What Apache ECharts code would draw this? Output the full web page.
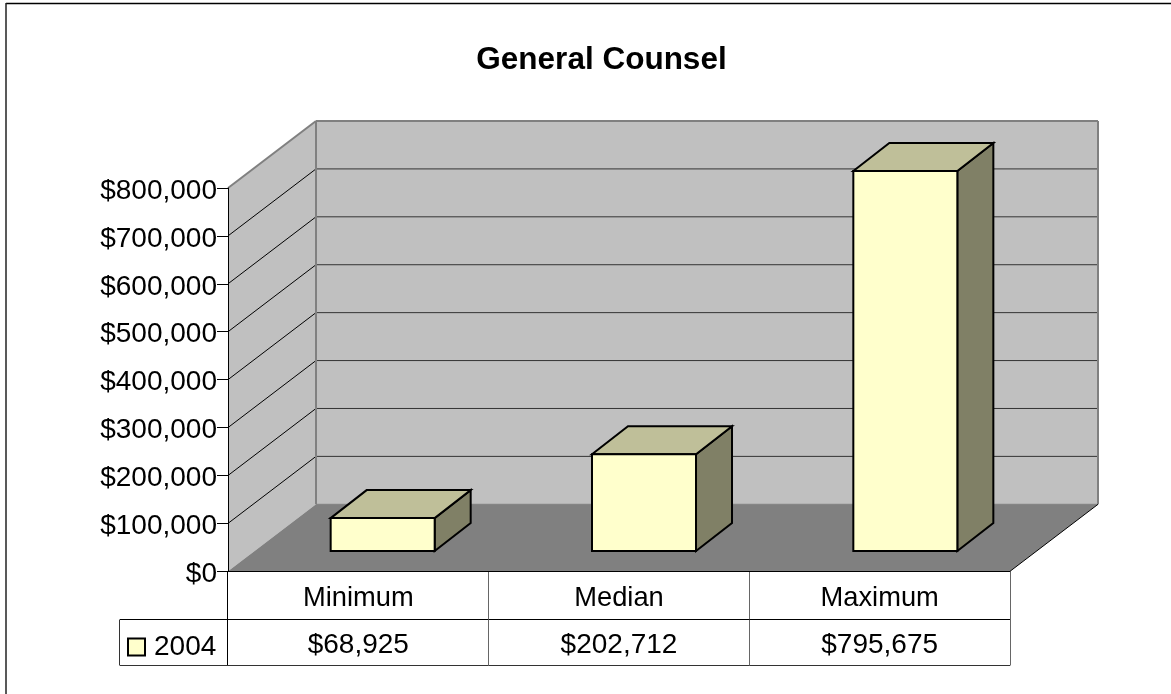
<!DOCTYPE html>
<html>
<head>
<meta charset="utf-8">
<style>html,body{margin:0;padding:0;background:#fff}#c{width:1171px;height:694px}</style>
<script src="https://cdn.jsdelivr.net/npm/echarts@6/dist/echarts.min.js"></script>
</head>
<body>
<div id="c"></div>
<script>
var categories = ['Minimum', 'Median', 'Maximum'];
var seriesName = '2004';
var values2004 = [68925, 202712, 795675];
var yTicks = [0, 100000, 200000, 300000, 400000, 500000, 600000, 700000, 800000];
var chartTitle = 'General Counsel';

var FONT = '"Liberation Sans", Arial, sans-serif';
var DX = 88, DY = -67;       // oblique offset of the back wall
var BDX = 36, BDY = -28;     // oblique offset of the bar depth
var money = function (v) { return '$' + Number(v).toLocaleString('en-US'); };

var chart = echarts.init(document.getElementById('c'), null, {renderer: 'canvas'});

function poly(points, fill, stroke, lw) {
  return {type: 'polygon', shape: {points: points},
    style: {fill: fill, stroke: stroke || null, lineWidth: lw || 0, lineJoin: 'miter'}};
}
function seg(a, b, color, lw) {
  return {type: 'line', shape: {x1: a[0], y1: a[1], x2: b[0], y2: b[1]},
    style: {stroke: color, lineWidth: lw, fill: null}};
}

function renderBox(params, api) {
  // walls, floor and wall gridlines, from the value axis
  if (params.dataIndex !== 0) return {type: 'group', children: []};
  var cs = params.coordSys;
  var x0 = cs.x, x1 = cs.x + cs.width;
  var yb = api.coord([0, 0])[1];
  var yt = api.coord([0, yTicks[yTicks.length - 1]])[1];
  var kids = [];
  kids.push(poly([[x0 + DX, yt + DY], [x1 + DX, yt + DY], [x1 + DX, yb + DY], [x0 + DX, yb + DY]], '#C0C0C0'));
  kids.push(poly([[x0, yt], [x0 + DX, yt + DY], [x0 + DX, yb + DY], [x0, yb]], '#C0C0C0'));
  kids.push(poly([[x0, yb], [x0 + DX, yb + DY], [x1 + DX, yb + DY], [x1, yb]], '#808080'));
  yTicks.forEach(function (t, i) {
    var y = api.coord([0, t])[1];
    if (i > 0 && i < yTicks.length - 1) {
      kids.push(seg([x0, y], [x0 + DX, y + DY], '#000', 1));
      kids.push(seg([x0 + DX, y + DY], [x1 + DX, y + DY], '#333', 1));
    }
  });
  kids.push(seg([x0, yt], [x0 + DX, yt + DY], '#808080', 2));
  kids.push(seg([x0 + DX, yt + DY], [x1 + DX, yt + DY], '#808080', 2));
  kids.push(seg([x0 + DX, yt + DY], [x0 + DX, yb + DY], '#808080', 2));
  kids.push(seg([x1 + DX, yt + DY], [x1 + DX, yb + DY], '#808080', 2));
  kids.push(seg([x0 + DX, yb + DY], [x1 + DX, yb + DY], '#808080', 1));
  kids.push(seg([x1, yb], [x1 + DX, yb + DY], '#000', 1));
  return {type: 'group', children: kids};
}

function renderBar(params, api) {
  var cat = api.value(0), val = api.value(1);
  var top = api.coord([cat, val]), bot = api.coord([cat, 0]);
  var w = api.size([1, 0])[0] * 0.398;
  var l = top[0] - w / 2, r = top[0] + w / 2, t = top[1], b = bot[1];
  return {type: 'group', children: [
    poly([[r, t], [r + BDX, t + BDY], [r + BDX, b + BDY], [r, b]], '#808066', '#000', 2),
    poly([[l, t], [l + BDX, t + BDY], [r + BDX, t + BDY], [r, t]], '#BFBF99', '#000', 2),
    poly([[l, t], [r, t], [r, b], [l, b]], '#FFFFCC', '#000', 2)
  ]};
}

function renderTable(params, api) {
  // data table under the axis: one value cell per category
  var cs = params.coordSys;
  var band = api.size([1, 0])[0];
  var cx = api.coord([api.value(0), 0])[0];
  var yb = cs.y + cs.height;
  var yMid = Math.floor(yb + 48) + 0.5, yEnd = Math.floor(yb + 94) + 0.5;
  var l = cx - band / 2, r = cx + band / 2;
  var kids = [
    seg([l, yMid], [r, yMid], '#000', 1),
    seg([l, yEnd], [r, yEnd], '#333', 1),
    seg([Math.floor(r) + 0.5, yb], [Math.floor(r) + 0.5, yEnd], '#666', 1),
    {type: 'text', x: cx, y: (yMid + yEnd) / 2 + 3, style: {
      text: money(api.value(1)), fill: '#000', font: '28px ' + FONT, align: 'center', verticalAlign: 'middle'}}
  ];
  if (params.dataIndex === 0) {
    kids.push(seg([l - 0.5, yb], [l - 0.5, yEnd], '#000', 1));
    kids.push(seg([l - 108, yMid], [l, yMid], '#000', 1));
    kids.push(seg([l - 108, yEnd], [l, yEnd], '#333', 1));
    kids.push(seg([l - 108.5, yMid], [l - 108.5, yEnd], '#333', 1));
  }
  return {type: 'group', children: kids};
}

var rows = categories.map(function (c, i) { return [i, values2004[i]]; });

chart.setOption({
  animation: false,
  backgroundColor: '#fff',
  title: {text: chartTitle, left: 596.5, top: 39, textAlign: 'center',
    textStyle: {fontFamily: FONT, fontSize: 31.5, fontWeight: 'bold', color: '#000'}},
  legend: {data: [seriesName], left: 127, top: 633, itemWidth: 17, itemHeight: 17, padding: 0,
    icon: 'rect', selectedMode: false,
    textStyle: {fontFamily: FONT, fontSize: 28, color: '#000', padding: [2, 0, 0, 4]}},
  graphic: [
    {type: 'line', z: 0, shape: {x1: 6, y1: 3.5, x2: 1171, y2: 3.5}, style: {stroke: '#000', lineWidth: 1.5}},
    {type: 'line', z: 0, shape: {x1: 6, y1: 3, x2: 6, y2: 694}, style: {stroke: '#222', lineWidth: 1.5}}
  ],
  grid: [
    {left: 228, top: 188, width: 782, height: 383.3},
    {left: 252, top: 169, width: 784, height: 382}
  ],
  xAxis: [
    {type: 'category', gridIndex: 0, data: categories, z: 10,
      axisTick: {show: false}, axisLine: {show: true, lineStyle: {color: '#000', width: 1}},
      axisLabel: {fontFamily: FONT, fontSize: 27.3, color: '#000', margin: 14}},
    {type: 'category', gridIndex: 1, data: categories, show: false}
  ],
  yAxis: [
    {type: 'value', gridIndex: 0, min: 0, max: 800000, interval: 100000, z: 10,
      splitLine: {show: false},
      axisLine: {show: true, lineStyle: {color: '#000', width: 1}},
      axisTick: {show: true, length: 11, lineStyle: {color: '#000', width: 1}},
      axisLabel: {margin: 11, formatter: function (v) { return '{a|' + money(v) + '}'; },
        rich: {a: {fontFamily: FONT, fontSize: 28, color: '#000', lineHeight: 32, padding: [6, 0, 0, 0]}}}},
    {type: 'value', gridIndex: 1, min: 0, max: 800000, interval: 100000, show: false}
  ],
  series: [
    {type: 'custom', name: 'box', xAxisIndex: 0, yAxisIndex: 0, z: 1, silent: true,
      renderItem: renderBox, data: rows, encode: {x: 0, y: 1}},
    {type: 'custom', name: seriesName, xAxisIndex: 1, yAxisIndex: 1, z: 3,
      itemStyle: {color: '#FFFFCC', borderColor: '#000', borderWidth: 1.5},
      renderItem: renderBar, data: rows, encode: {x: 0, y: 1}},
    {type: 'custom', name: 'table', xAxisIndex: 0, yAxisIndex: 0, z: 4, silent: true,
      renderItem: renderTable, data: rows, encode: {x: 0, y: 1}}
  ]
});
</script>
</body>
</html>
